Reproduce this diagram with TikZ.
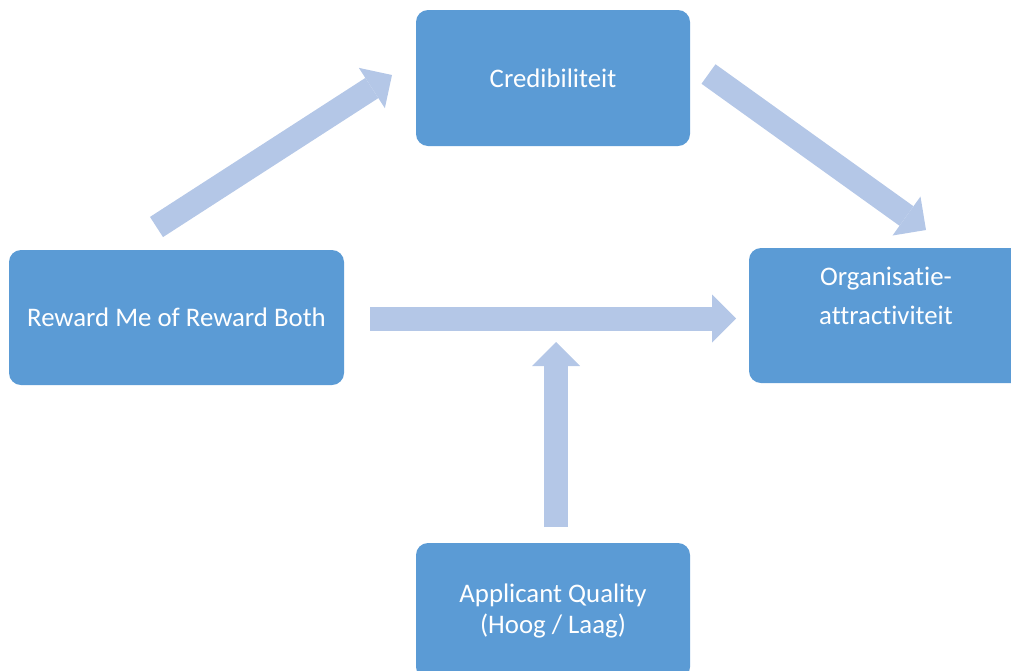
\documentclass[tikz,border=0pt]{standalone}
\usepackage{fontspec}
\setmainfont[Ligatures=NoCommon]{Carlito}
\usepackage{tikz}
\usetikzlibrary{arrows.meta}

\definecolor{boxblue}{HTML}{5B9BD5}
\definecolor{arrowblue}{HTML}{B4C7E7}

\tikzset{
  factor/.style={fill=boxblue, rounded corners=12pt, text=white, align=center,
    minimum width=274pt, minimum height=136pt, inner sep=0pt,
    font=\fontsize{26.8}{31}\selectfont},
  flow/.style={arrowblue, line width=24pt,
    -{Triangle[length=24pt,width=48pt,line width=0pt]}}
}

\begin{document}
\begin{tikzpicture}[x=1pt, y=-1pt]

\useasboundingbox (0,0) rectangle (1011,670);
\clip (0,0) rectangle (1011,670);

% the four factors
\node[factor] (cred) at (553,78) {Credibiliteit};
\node[factor, minimum width=335pt, minimum height=135pt] (reward) at (176.5,317.5) {Reward Me of Reward Both};
\node[factor, minimum height=135pt, font=\fontsize{26.8}{39}\selectfont] (orga) at (886,315.5) {Organisatie-\\attractiviteit\\\mbox{}};
\node[factor] (appl) at (553,611) {Applicant Quality\\(Hoog / Laag)};

% arrow ends
\coordinate (rc) at (156.5,227);
\coordinate (cr) at (392,75);
\coordinate (co) at (708.5,74);
\coordinate (oc) at (926,230);
\coordinate (ro) at (370,318.5);
\coordinate (or) at (736,318.5);
\coordinate (aq) at (556,527);
\coordinate (qa) at (556,342);

\draw[flow] (rc) -- (cr);
\draw[flow] (co) -- (oc);
\draw[flow] (ro) -- (or);
\draw[flow] (aq) -- (qa);

\end{tikzpicture}
\end{document}
